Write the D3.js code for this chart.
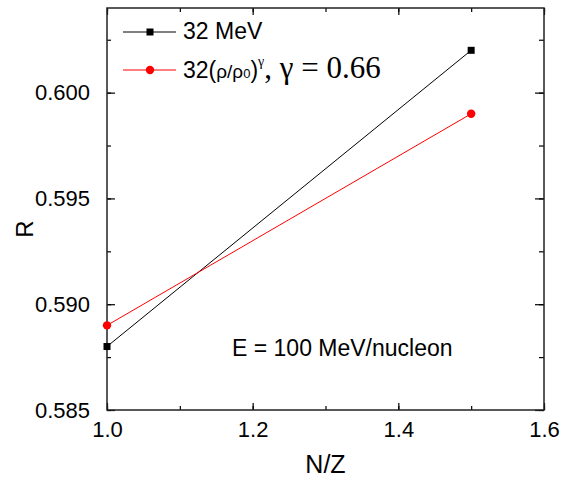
<!DOCTYPE html>
<html>
<head>
<title>R vs N/Z</title>
<script src="https://d3js.org/d3.v7.min.js"></script>
<style>
	body{ margin: 0; background: #fff; }
	text{ font-family: Arial, "Liberation Sans", sans-serif; fill: #000; }
</style>
</head>
<body>
<script>
	// data
	var nzValues = [1.0, 1.5]
	var rStiff = [0.588, 0.602]       // 32 MeV
	var rSoft = [0.589, 0.599]        // 32(rho/rho0)^gamma, gamma = 0.66
	var xTicks = [1.0, 1.2, 1.4, 1.6]
	var yTicks = [0.585, 0.590, 0.595, 0.600]

	var margin = {top: 8, right: 17, bottom: 70, left: 107}
	var width = 561 - margin.left - margin.right
	var height = 480 - margin.top - margin.bottom

	var svg = d3.select('body').append('svg')
		.attr('width', 561)
		.attr('height', 480)
	var g = svg.append('g')
		.attr('transform', 'translate(' + margin.left + ',' + margin.top + ')')

	var xScale = d3.scaleLinear().domain([1.0, 1.6]).range([0, width])
	var yScale = d3.scaleLinear().domain([0.585, 0.604]).range([height, 0])

	// minor ticks first, major on top
	var xMinor = d3.range(1.0, 1.6001, 0.1)
	var yMinor = d3.range(0.585, 0.6041, 0.0025)

	function styleAxis(sel){
		sel.select('.domain').remove()
		sel.selectAll('line').attr('stroke', '#000').attr('stroke-width', 1.2)
		sel.selectAll('text').style('font-size', '22px')
	}

	g.append('g').attr('transform', 'translate(0,' + height + ')')
		.call(d3.axisBottom(xScale).tickValues(xMinor).tickSize(-4).tickFormat(''))
		.call(styleAxis)
	g.append('g').attr('transform', 'translate(0,' + height + ')')
		.call(d3.axisBottom(xScale).tickValues(xTicks).tickSize(-7).tickPadding(11).tickFormat(d3.format('.1f')))
		.call(styleAxis)
	g.append('g')
		.call(d3.axisTop(xScale).tickValues(xMinor).tickSize(-4).tickFormat(''))
		.call(styleAxis)
	g.append('g')
		.call(d3.axisTop(xScale).tickValues(xTicks).tickSize(-7).tickFormat(''))
		.call(styleAxis)

	g.append('g')
		.call(d3.axisLeft(yScale).tickValues(yMinor).tickSize(-4).tickFormat(''))
		.call(styleAxis)
	g.append('g')
		.call(d3.axisLeft(yScale).tickValues(yTicks).tickSize(-8).tickPadding(17).tickFormat(d3.format('.3f')))
		.call(styleAxis)
	g.append('g').attr('transform', 'translate(' + width + ',0)')
		.call(d3.axisRight(yScale).tickValues(yMinor).tickSize(-5).tickFormat(''))
		.call(styleAxis)
	g.append('g').attr('transform', 'translate(' + width + ',0)')
		.call(d3.axisRight(yScale).tickValues(yTicks).tickSize(-9).tickFormat(''))
		.call(styleAxis)

	g.append('rect')
		.attr('width', width)
		.attr('height', height)
		.attr('fill', 'none')
		.attr('stroke', '#222')
		.attr('stroke-width', 1.5)

	// series
	var line = d3.line().x(function(d){ return xScale(d[0]) }).y(function(d){ return yScale(d[1]) })
	var stiff = nzValues.map(function(v, i){ return [v, rStiff[i]] })
	var soft = nzValues.map(function(v, i){ return [v, rSoft[i]] })

	g.append('path').datum(stiff)
		.attr('d', line).attr('fill', 'none').attr('stroke', '#000').attr('stroke-width', 1)
	g.append('path').datum(soft)
		.attr('d', line).attr('fill', 'none').attr('stroke', '#ff0000').attr('stroke-width', 1)
	g.selectAll('.sq').data(stiff).enter().append('rect')
		.attr('x', function(d){ return xScale(d[0]) - 3.5 })
		.attr('y', function(d){ return yScale(d[1]) - 3.5 })
		.attr('width', 7).attr('height', 7)
		.attr('fill', '#000')
	g.selectAll('.dot').data(soft).enter().append('circle')
		.attr('cx', function(d){ return xScale(d[0]) })
		.attr('cy', function(d){ return yScale(d[1]) })
		.attr('r', 4.2)
		.attr('fill', '#ff0000')

	// axis titles
	svg.append('text')
		.attr('x', margin.left + width / 2)
		.attr('y', 473)
		.attr('text-anchor', 'middle')
		.style('font-size', '25px')
		.text('N/Z')
	svg.append('text')
		.attr('transform', 'translate(33,229) rotate(-90)')
		.attr('text-anchor', 'middle')
		.style('font-size', '24px')
		.text('R')

	// legend
	var legend = svg.append('g')
	legend.append('line').attr('x1', 123).attr('x2', 176).attr('y1', 32).attr('y2', 32)
		.attr('stroke', '#000').attr('stroke-width', 1)
	legend.append('rect').attr('x', 146.5).attr('y', 28.5).attr('width', 7).attr('height', 7).attr('fill', '#000')
	legend.append('text').attr('x', 183).attr('y', 39).style('font-size', '23px').text('32 MeV')

	legend.append('line').attr('x1', 123).attr('x2', 176).attr('y1', 70).attr('y2', 70)
		.attr('stroke', '#ff0000').attr('stroke-width', 1)
	legend.append('circle').attr('cx', 150).attr('cy', 70).attr('r', 4.2).attr('fill', '#ff0000')
	var serif = '"Liberation Serif", "DejaVu Serif", serif'
	var lt = legend.append('text').attr('x', 183).attr('y', 78).style('font-size', '23px')
	lt.append('tspan').text('32(')
	lt.append('tspan').style('font-size', '19px').text('ρ/ρ')
	lt.append('tspan').style('font-size', '13px').text('0')
	lt.append('tspan').text(')')
	lt.append('tspan').attr('dy', -12).attr('font-family', serif).style('font-family', serif)
		.style('font-size', '14px').text('γ')
	lt.append('tspan').attr('dy', 12).attr('font-family', serif).style('font-family', serif)
		.style('font-size', '31px').text(', γ = 0.66')

	// annotation
	svg.append('text')
		.attr('x', 232)
		.attr('y', 356)
		.style('font-size', '23px')
		.text('E = 100 MeV/nucleon')
</script>
</body>
</html>
